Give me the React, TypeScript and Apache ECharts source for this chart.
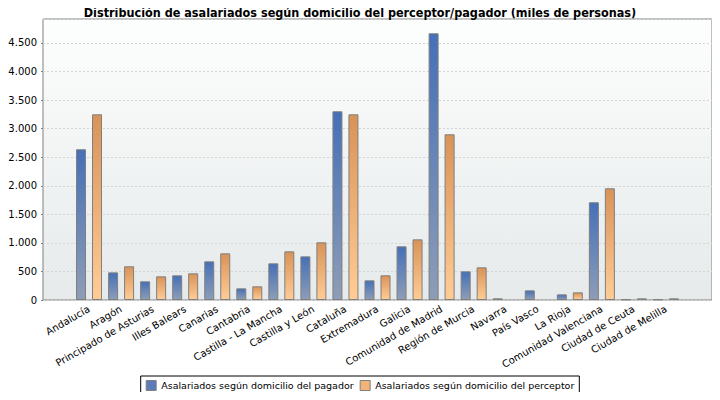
import React, { useEffect, useRef } from "react";
import * as echarts from "echarts";

const categories = [
  "Andalucía", "Aragón", "Principado de Asturias", "Illes Balears", "Canarias",
  "Cantabria", "Castilla - La Mancha", "Castilla y León", "Cataluña", "Extremadura",
  "Galicia", "Comunidad de Madrid", "Región de Murcia", "Navarra", "País Vasco",
  "La Rioja", "Comunidad Valenciana", "Ciudad de Ceuta", "Ciudad de Melilla",
];

const pagador = [2639, 484, 327, 432, 677, 204, 642, 764, 3304, 344, 940, 4670, 502, 29, 169, 99, 1711, 12, 12];
const perceptor = [3251, 590, 414, 467, 817, 239, 852, 1010, 3251, 432, 1062, 2901, 572, null, null, 134, 1956, 29, 29];

const seriesNames = [
  "Asalariados según domicilio del pagador",
  "Asalariados según domicilio del perceptor",
];

const yMax = 4920;
const yInterval = 500;

const fmt = (v: number) => String(Math.round(v)).replace(/\B(?=(\d{3})+(?!\d))/g, ".");

export default function App() {
  const ref = useRef<HTMLDivElement>(null);
  useEffect(() => {
    if (!ref.current) return;
    const chart = echarts.init(ref.current, null, { renderer: "svg" });
    const font = "DejaVu Sans";
    const blue = new echarts.graphic.LinearGradient(0, 0, 0, 1, [
      { offset: 0, color: "#4570b8" },
      { offset: 1, color: "#8e9db6" },
    ]);
    const orange = new echarts.graphic.LinearGradient(0, 0, 0, 1, [
      { offset: 0, color: "#d99358" },
      { offset: 1, color: "#ffcc96" },
    ]);
    chart.setOption({
      animation: false,
      backgroundColor: "#ffffff",
      title: {
        text: "Distribución de asalariados según domicilio del perceptor/pagador (miles de personas)",
        left: "center",
        top: 1,
        textStyle: { fontFamily: "DejaVu Sans Condensed", fontWeight: "bold", fontSize: 12.5, color: "#000" },
      },
      legend: {
        left: "center",
        top: 376,
        orient: "horizontal",
        borderColor: "#000",
        borderWidth: 1,
        padding: [4, 5],
        itemWidth: 10,
        itemHeight: 10,
        itemGap: 6,
        icon: "rect",
        textStyle: { fontFamily: font, fontSize: 9.5, color: "#000" },
        data: [
          { name: seriesNames[0], itemStyle: { color: "#5b7bb9", borderColor: "#808080", borderWidth: 1 } },
          { name: seriesNames[1], itemStyle: { color: "#f2b27a", borderColor: "#808080", borderWidth: 1 } },
        ],
      },
      grid: [
        {
          left: 43, right: 8, top: 19, bottom: 100, show: true,
          borderColor: "#808080", borderWidth: 1,
          backgroundColor: {
            type: "linear", x: 0, y: 0, x2: 0, y2: 1,
            colorStops: [
              { offset: 0, color: "#fdfefe" },
              { offset: 1, color: "#e6eaea" },
            ],
          },
        },
        { left: 73, right: 38, top: 19, bottom: 100 },
      ],
      xAxis: [
        { gridIndex: 0, type: "category", data: categories, show: false },
        {
          gridIndex: 1, type: "category", data: categories,
          axisLine: { show: false }, axisTick: { show: false },
          axisLabel: { rotate: 30, interval: 0, margin: 8, fontFamily: font, fontSize: 10, color: "#000" },
        },
      ],
      yAxis: [
        {
          gridIndex: 0, type: "value", min: 0, max: yMax, interval: yInterval,
          axisLine: { show: false },
          axisTick: { show: true, length: 2, lineStyle: { color: "#808080" } },
          axisLabel: { fontFamily: font, fontSize: 10, color: "#000", margin: 6, showMaxLabel: false, formatter: fmt },
          splitLine: { show: true, lineStyle: { color: "#d4d4d4", type: [2, 2], width: 1 } },
        },
        { gridIndex: 1, type: "value", min: 0, max: yMax, interval: yInterval, show: false, splitLine: { show: false } },
      ],
      series: [
        {
          name: seriesNames[0], type: "bar", xAxisIndex: 1, yAxisIndex: 1,
          data: pagador, barWidth: 10, barGap: "60%",
          itemStyle: { color: blue, borderColor: "#7f7f7f", borderWidth: 1 },
        },
        {
          name: seriesNames[1], type: "bar", xAxisIndex: 1, yAxisIndex: 1,
          data: perceptor, barWidth: 10, barGap: "60%",
          itemStyle: { color: orange, borderColor: "#7f7f7f", borderWidth: 1 },
        },
      ],
    });
    return () => chart.dispose();
  }, []);
  return <div ref={ref} style={{ width: 720, height: 400, margin: -8 }} />;
}
